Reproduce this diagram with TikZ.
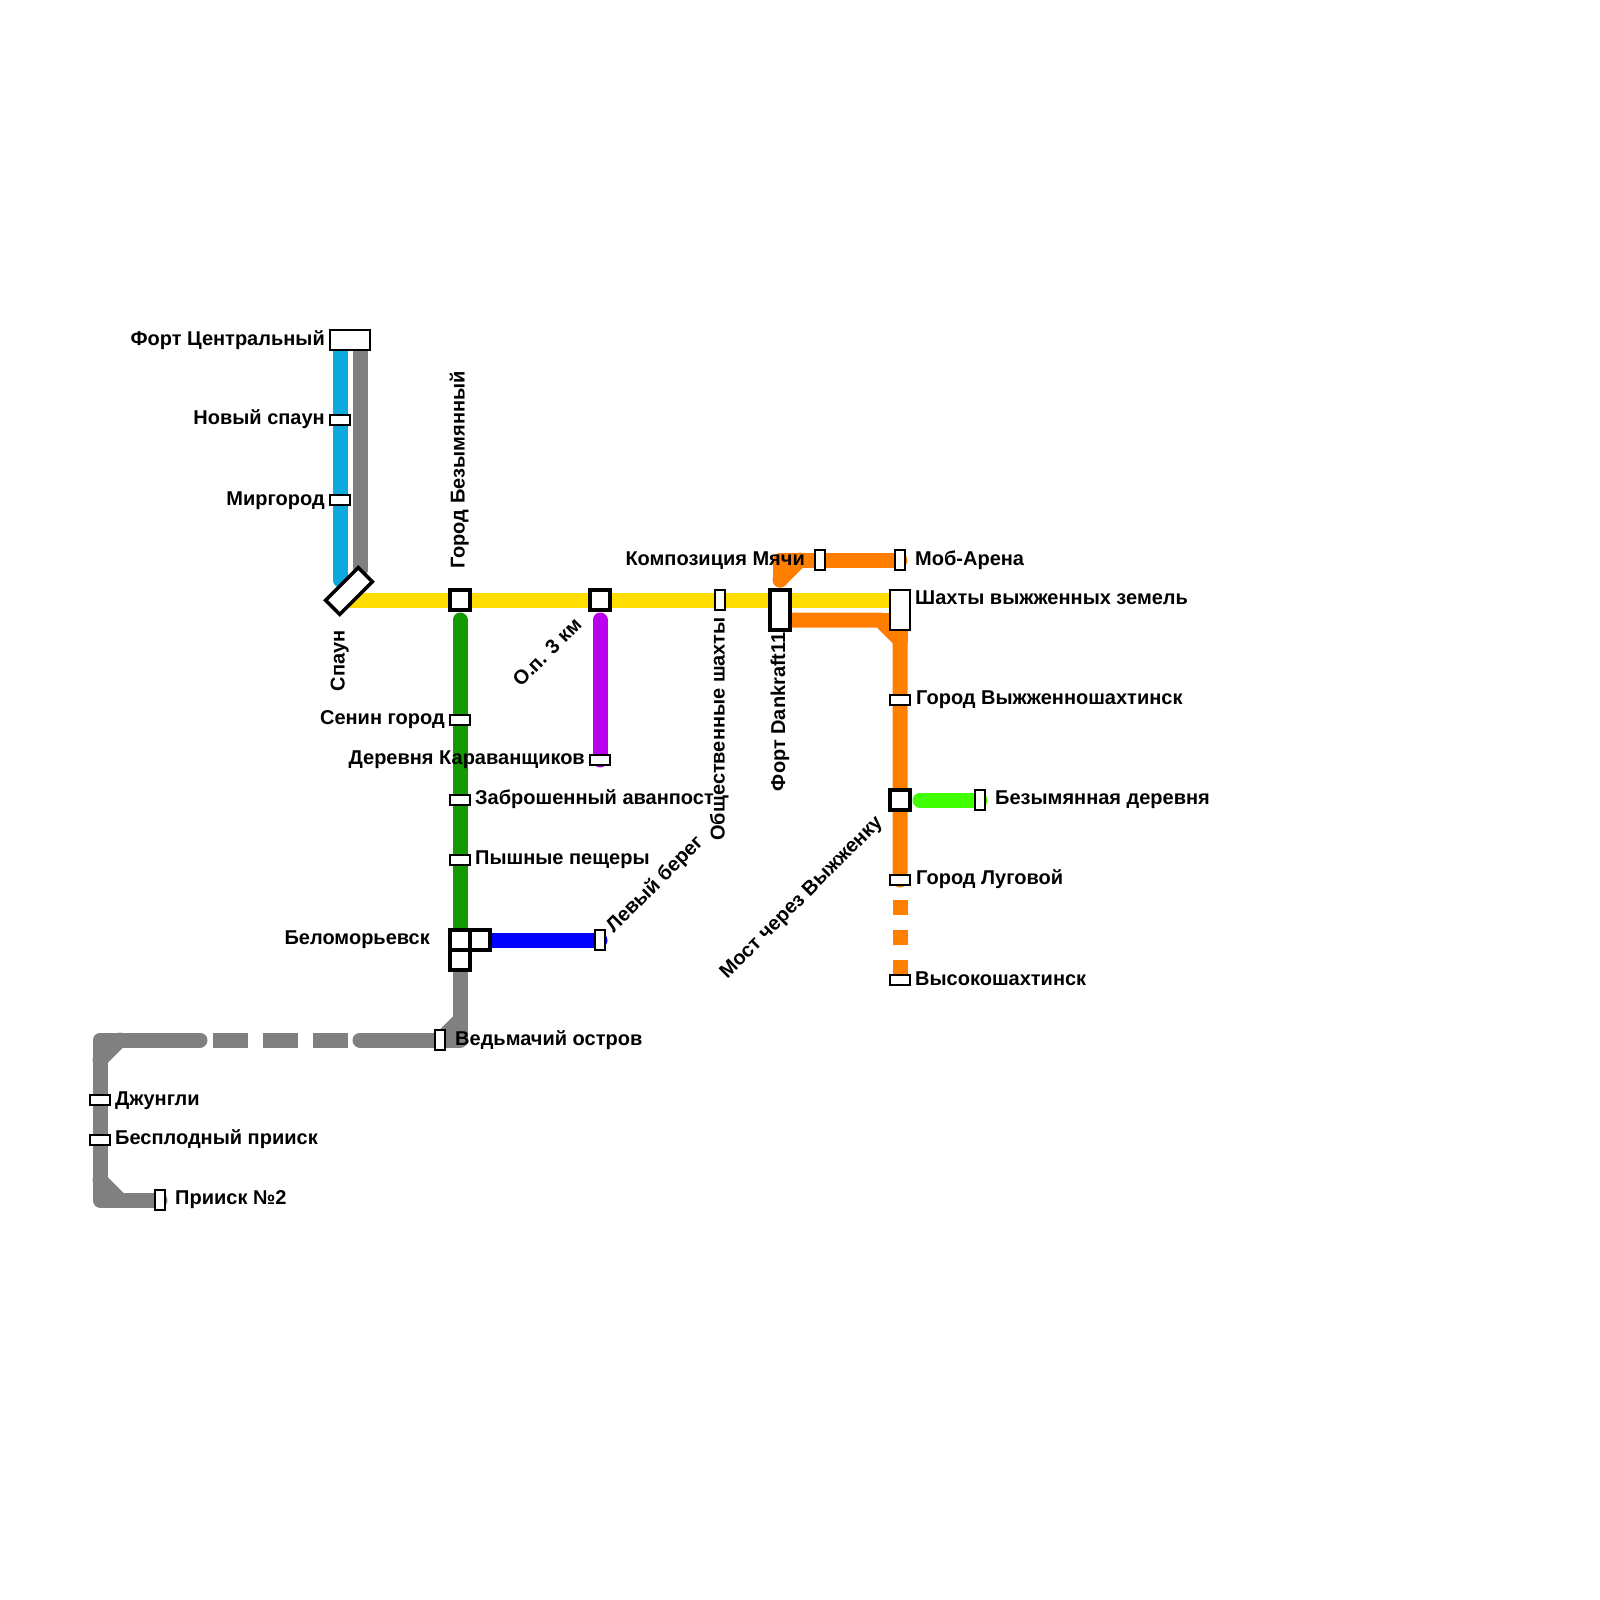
\documentclass[tikz,border=0pt]{standalone}
\usepackage{fontspec}
\setmainfont{Liberation Sans}
\tikzset{
  x=1pt,y=-1pt,
  metro/.style={line width=15pt,line cap=round,line join=round},
  lblue/.style={metro,draw=cBlue},lgray/.style={metro,draw=cGray},lyellow/.style={metro,draw=cYellow},
  lgreen/.style={metro,draw=cGreen},lorange/.style={metro,draw=cOrange},
  stnbase/.style={draw=black,fill=white,inner sep=0pt,outer sep=0pt,line width=2.2pt},
  sh/.style={stnbase,minimum width=20pt,minimum height=10pt},
  sv/.style={stnbase,minimum width=10pt,minimum height=20pt},
  sq/.style={stnbase,line width=4pt,minimum width=20pt,minimum height=20pt},
  lbl/.style={font=\fontsize{20}{20}\selectfont\bfseries,inner sep=0pt,text=black},
  lleft/.style={lbl,anchor=base east},
  lright/.style={lbl,anchor=base west},
}
\definecolor{cBlue}{HTML}{0BA9E0}
\definecolor{cGray}{HTML}{808080}
\definecolor{cYellow}{HTML}{FFDD00}
\definecolor{cGreen}{HTML}{149900}
\definecolor{cOrange}{HTML}{FF7E00}
\definecolor{cPurple}{HTML}{BB00EE}
\definecolor{cLBlue}{HTML}{0000FF}
\definecolor{cLime}{HTML}{3FFF00}
\begin{document}
\begin{tikzpicture}
\useasboundingbox (0,0) rectangle (1600,1600);
\draw[lblue] (340,340) -- (340,580);
\draw[lgray] (360,340) -- (360,570);
\draw[lyellow] (350,600) -- (900,600);
\draw[lgreen] (460,620) -- (460,940);
\draw[metro,draw=cPurple] (600,620) -- (600,760);
\draw[metro,draw=cLBlue] (480,940) -- (600,940);
\draw[metro,draw=cLime] (920,800) -- (980,800);
\draw[lorange] (780,580) -- (780,560) -- (900,560);
\draw[lorange] (780,580) -- (800,560);
\draw[lorange] (780,620) -- (880,620) -- (900,640) -- (900,880);
\draw[lorange] (880,620) -- (900,620) -- (900,640);
\draw[line width=15pt,draw=cOrange,dash pattern=on 15pt off 15pt] (900,900) -- (900,980);
\draw[lgray] (460,960) -- (460,1040) -- (360,1040);
\draw[lgray] (440,1040) -- (460,1020);
\draw[lgray] (200,1040) -- (100,1040) -- (100,1200) -- (160,1200);
\draw[lgray] (100,1060) -- (120,1040);
\draw[lgray] (100,1180) -- (120,1200);
\draw[line width=15pt,draw=cGray,dash pattern=on 35pt off 15pt] (212.5,1040) -- (347.5,1040);
\node[stnbase,minimum width=40pt,minimum height=20pt] (fc) at (350,340) {};
\node[sh] (ns) at (340,420) {};
\node[sh] (mg) at (340,500) {};
\node[stnbase,line width=3.5pt,minimum width=46pt,minimum height=20pt,rotate=45] (sp) at (349,591) {};
\node[sq] (gb) at (460,600) {};
\node[sq] (op) at (600,600) {};
\node[sv] (os) at (720,600) {};
\node[stnbase,line width=4pt,minimum width=20pt,minimum height=40pt] (fd) at (780,610) {};
\node[stnbase,minimum width=20pt,minimum height=40pt] (shz) at (900,610) {};
\node[sv] (km) at (820,560) {};
\node[sv] (ma) at (900,560) {};
\node[sh] (gv) at (900,700) {};
\node[sq] (mv) at (900,800) {};
\node[sv] (bd) at (980,800) {};
\node[sh] (gl) at (900,880) {};
\node[sh] (vs) at (900,980) {};
\node[sh] (sg) at (460,720) {};
\node[sh] (dk) at (600,760) {};
\node[sh] (za) at (460,800) {};
\node[sh] (pp) at (460,860) {};
\node[sq] (b1) at (460,940) {};
\node[sq] (b2) at (480,940) {};
\node[sq] (b3) at (460,960) {};
\node[sv] (lb) at (600,940) {};
\node[sv] (vo) at (440,1040) {};
\node[sh] (dj) at (100,1100) {};
\node[sh] (bp) at (100,1140) {};
\node[sv] (p2) at (160,1200) {};
% labels
\node[lleft] (tfc) at (325,345) {Форт Центральный};
\node[lleft] (tns) at (325,424.5) {Новый спаун};
\node[lleft] (tmg) at (325,505) {Миргород};
\node[lleft] (tsg) at (445,724.5) {Сенин город};
\node[lleft] (tdk) at (585,764.5) {Деревня Караванщиков};
\node[lleft] (tbm) at (430,944.3) {Беломорьевск};
\node[lleft] (tkm) at (805,565) {Композиция Мячи};
\node[lright] (tma) at (915,565) {Моб-Арена};
\node[lright] (tsh) at (915,604.5) {Шахты выжженных земель};
\node[lright] (tgv) at (916,704.5) {Город Выжженношахтинск};
\node[lright] (tbd) at (995,804.5) {Безымянная деревня};
\node[lright] (tgl) at (916,884.5) {Город Луговой};
\node[lright] (tvs) at (915,985) {Высокошахтинск};
\node[lright] (tza) at (475,804.5) {Заброшенный аванпост};
\node[lright] (tpp) at (475,864.5) {Пышные пещеры};
\node[lright] (tvo) at (455,1045) {Ведьмачий остров};
\node[lright] (tdj) at (115,1105) {Джунгли};
\node[lright] (tbp) at (115,1144.5) {Бесплодный прииск};
\node[lright] (tp2) at (175,1204.5) {Прииск №2};
\node[lleft,rotate=90] (tsp) at (344.5,630) {Спаун};
\node[lright,rotate=90] (tgb) at (464.5,569) {Город Безымянный};
\node[lbl,anchor=east,rotate=45] (top) at (578,621) {О.п. 3 км};
\node[lleft,rotate=90] (tos) at (724.5,617) {Общественные шахты};
\node[lleft,rotate=90] (tfd) at (785,632) {Форт Dankraft11};
\node[lbl,anchor=west,rotate=45] (tlb) at (610,930) {Левый берег};
\node[lbl,anchor=east,rotate=45] (tmv) at (880,820) {Мост через Выжженку};
\end{tikzpicture}
\end{document}
